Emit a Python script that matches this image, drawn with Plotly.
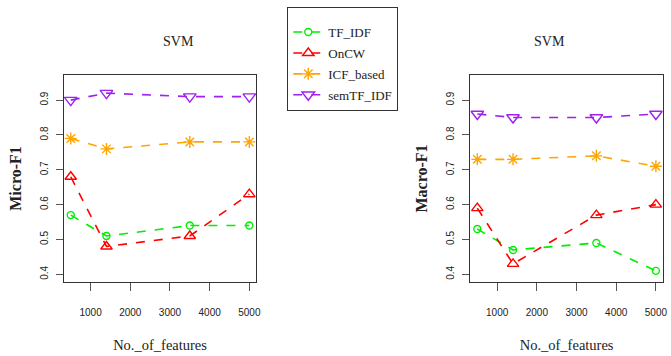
import plotly.graph_objects as go

features = [500, 1400, 3500, 5000]
series_names = ["TF_IDF", "OnCW", "ICF_based", "semTF_IDF"]

micro_tfidf = [0.57, 0.51, 0.54, 0.54]
micro_oncw = [0.68, 0.48, 0.51, 0.63]
micro_icf = [0.79, 0.76, 0.78, 0.78]
micro_sem = [0.90, 0.92, 0.91, 0.91]

macro_tfidf = [0.53, 0.47, 0.49, 0.41]
macro_oncw = [0.59, 0.43, 0.57, 0.60]
macro_icf = [0.73, 0.73, 0.74, 0.71]
macro_sem = [0.86, 0.85, 0.85, 0.86]

x_ticks = [1000, 2000, 3000, 4000, 5000]
y_ticks = [0.4, 0.5, 0.6, 0.7, 0.8, 0.9]

colors = ["#00EE00", "#FF0000", "#FFA500", "#A020F0"]
symbols = ["circle-open", "triangle-up-open", "asterisk-open", "triangle-down-open"]
sizes = [7, 10, 10, 11]

SERIF = "Liberation Serif"
SANS = "Liberation Sans"

W, H = 671, 356

def px_x(a, b):
    return [a / W, b / W]

def px_y(top, bottom):
    return [1 - bottom / H, 1 - top / H]

fig = go.Figure()

micro = [micro_tfidf, micro_oncw, micro_icf, micro_sem]
macro = [macro_tfidf, macro_oncw, macro_icf, macro_sem]

for i, name in enumerate(series_names):
    fig.add_trace(go.Scatter(
        x=features, y=micro[i], name=name, mode="lines+markers",
        line=dict(color=colors[i], width=1.6, dash="dash"),
        marker=dict(symbol=symbols[i], size=sizes[i], color=colors[i], line=dict(width=1.4, color=colors[i])),
        xaxis="x", yaxis="y", showlegend=True, legendgroup=name))
for i, name in enumerate(series_names):
    fig.add_trace(go.Scatter(
        x=features, y=macro[i], name=name, mode="lines+markers",
        line=dict(color=colors[i], width=1.6, dash="dash"),
        marker=dict(symbol=symbols[i], size=sizes[i], color=colors[i], line=dict(width=1.4, color=colors[i])),
        xaxis="x2", yaxis="y2", showlegend=False, legendgroup=name))

xaxis_common = dict(
    range=[320, 5180], tickvals=x_ticks, ticktext=[str(t) for t in x_ticks],
    showline=True, mirror=True, linecolor="#333333", linewidth=1,
    ticks="outside", ticklen=8, tickcolor="#555555", showgrid=False, zeroline=False,
    tickfont=dict(family=SANS, size=10, color="#222222"),
    ticklabelstandoff=13,
    title=dict(text="No._of_features", font=dict(family=SERIF, size=14.5, color="#222222"), standoff=22),
)
yaxis_common = dict(
    range=[0.378, 0.972], tickvals=y_ticks, ticktext=[f"{t:.1f}" for t in y_ticks],
    showline=True, mirror=True, linecolor="#333333", linewidth=1,
    ticks="outside", ticklen=7, tickcolor="#555555", showgrid=False, zeroline=False,
    tickangle=-90,
    tickfont=dict(family=SANS, size=10, color="#222222"),
    ticklabelstandoff=4,
)

fig.update_layout(
    width=W, height=H,
    margin=dict(l=0, r=0, t=0, b=0),
    paper_bgcolor="white", plot_bgcolor="white",
    xaxis=dict(domain=px_x(64, 258), anchor="y", **xaxis_common),
    yaxis=dict(domain=px_y(75, 282), anchor="x",
               title=dict(text="<b>Micro-F1</b>", font=dict(family=SERIF, size=16, color="#222222"), standoff=13),
               **yaxis_common),
    xaxis2=dict(domain=px_x(473, 667), anchor="y2", **xaxis_common),
    yaxis2=dict(domain=px_y(75, 282), anchor="x2",
                title=dict(text="<b>Macro-F1</b>", font=dict(family=SERIF, size=16, color="#222222"), standoff=13),
                **yaxis_common),
    legend=dict(
        x=289 / W, y=1 - 7 / H, xanchor="left", yanchor="top",
        bordercolor="#333333", borderwidth=1, bgcolor="white",
        font=dict(family=SERIF, size=13, color="#222222"),
        itemwidth=30, tracegroupgap=1,
        title=dict(text=" ", font=dict(size=7)),
    ),
    annotations=[
        dict(text="SVM", x=162 / W, y=1 - 42 / H, xref="paper", yref="paper", yanchor="middle",
             showarrow=False, font=dict(family=SERIF, size=14, color="#222222")),
        dict(text="SVM", x=570 / W, y=1 - 42 / H, xref="paper", yref="paper", yanchor="middle",
             showarrow=False, font=dict(family=SERIF, size=14, color="#222222")),
    ],
)

fig.write_html("out.html")
